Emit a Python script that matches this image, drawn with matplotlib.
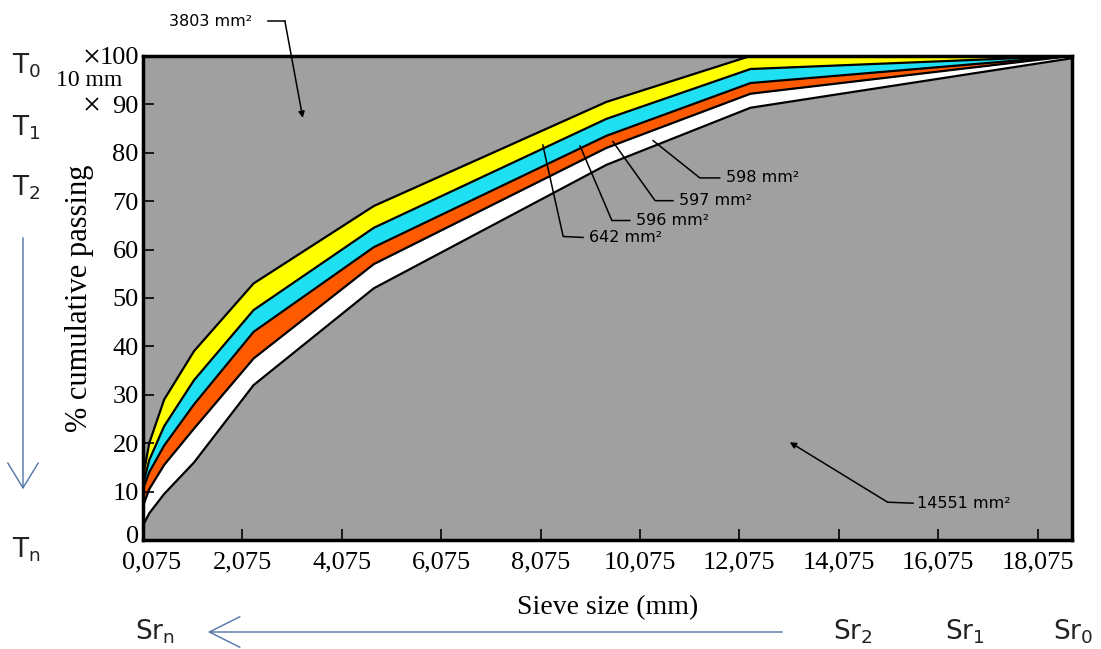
import matplotlib
matplotlib.use("Agg")
import matplotlib.pyplot as plt
import matplotlib.transforms as mtrans
import numpy as np

plt.rcParams['mathtext.default'] = 'regular'

# sieve sizes (mm) where the curves bend
sieve = [0.075, 0.2, 0.5, 1.1, 2.3, 4.72, 9.4, 12.3, 18.75]

# % cumulative passing, from top curve to bottom curve
curve_a = [13, 20, 29, 39, 53, 69, 90.5, 100, 100]
curve_b = [11.5, 16.5, 23.5, 33, 47.5, 64.5, 87, 97.3, 100]
curve_c = [10.5, 14, 19.5, 28, 43, 60.5, 83.5, 94.4, 100]
curve_d = [7, 10.5, 15.5, 23, 37.5, 57, 81, 92.2, 100]
curve_e = [3, 5.5, 9.5, 16, 32, 52, 77.5, 89.3, 99.5]

xticks = [0.075, 2.075, 4.075, 6.075, 8.075, 10.075, 12.075, 14.075, 16.075, 18.075]
xlabels = ["0,075", "2,075", "4,075", "6,075", "8,075", "10,075", "12,075",
           "14,075", "16,075", "18,075"]
yticks = [0, 10, 20, 30, 40, 50, 60, 70, 80, 90, 100]

areas = ["3803 mm²", "642 mm²", "596 mm²", "597 mm²", "598 mm²", "14551 mm²"]

fig = plt.figure(figsize=(11.01, 6.49), dpi=100)
ax = fig.add_axes([0.1299, 0.168, 0.8438, 0.7458])
ax.set_facecolor('#a0a0a0')

ax.fill_between(sieve, curve_e, curve_d, color='white', lw=0)
ax.fill_between(sieve, curve_d, curve_c, color='#ff5a00', lw=0)
ax.fill_between(sieve, curve_c, curve_b, color='#1fe0f2', lw=0)
ax.fill_between(sieve, curve_b, curve_a, color='#ffff00', lw=0)
for c in [curve_a, curve_b, curve_c, curve_d, curve_e]:
    ax.plot(sieve, c, color='black', lw=1.6)

ax.set_xlim(0.075, 18.77)
ax.set_ylim(0, 100)
ax.set_xticks(xticks)
ax.set_xticklabels(xlabels)
ax.set_yticks(yticks)
ax.tick_params(direction='in', length=8, width=1.2, pad=3,
               labelsize=19, labelfontfamily='Liberation Serif')
ax.tick_params(axis='x', pad=8)
# the two corner labels are nudged apart, as in the original
first = ax.get_xticklabels()[0]
first.set_transform(first.get_transform() +
                    mtrans.ScaledTranslation(9 / 100, 0, fig.dpi_scale_trans))
zero = ax.get_yticklabels()[0]
zero.set_transform(zero.get_transform() +
                   mtrans.ScaledTranslation(0, 5 / 100, fig.dpi_scale_trans))
for s in ax.spines.values():
    s.set_linewidth(2.5)
ax.set_xlabel("Sieve size (mm)", family='Liberation Serif', fontsize=20, labelpad=16)
ax.set_ylabel("% cumulative passing", family='Liberation Serif', fontsize=22, labelpad=4)

# leader lines for the areas
lead = dict(color='black', lw=1.1)
tfont = dict(fontsize=11.5, family='DejaVu Sans', va='center')

ax.plot([2.59, 2.93], [107.2, 107.2], clip_on=False, **lead)
ax.annotate("", xy=(3.29, 87.2), xytext=(2.93, 107.2), annotation_clip=False,
            arrowprops=dict(arrowstyle='-|>', color='black', lw=1.1,
                            mutation_scale=9, shrinkA=0, shrinkB=0))
ax.text(0.6, 107.2, areas[0], clip_on=False, **tfont)

ax.plot([8.12, 8.53, 8.93], [81.6, 62.7, 62.5], **lead)
ax.text(9.05, 62.5, areas[1], **tfont)
ax.plot([8.87, 9.51, 9.87], [81.4, 66.0, 66.0], **lead)
ax.text(9.99, 66.0, areas[2], **tfont)
ax.plot([9.53, 10.38, 10.74], [82.3, 70.1, 70.1], **lead)
ax.text(10.86, 70.1, areas[3], **tfont)
ax.plot([10.34, 11.28, 11.68], [82.5, 74.8, 74.8], **lead)
ax.text(11.8, 74.8, areas[4], **tfont)

ax.plot([15.57, 15.06], [7.6, 7.8], **lead)
ax.annotate("", xy=(13.09, 20.2), xytext=(15.06, 7.8),
            arrowprops=dict(arrowstyle='-|>', color='black', lw=1.1,
                            mutation_scale=9, shrinkA=0, shrinkB=0))
ax.text(15.65, 7.6, areas[5], **tfont)

# 10 mm marks on the y axis
yx = ax.get_yaxis_transform()
ax.plot([-0.055, -0.055], [100, 90], transform=yx, ls='none', marker='x',
        ms=8, mew=1.2, color='black', clip_on=False)
fig.text(89 / 1101, 1 - 80 / 649, "10 mm", family='Liberation Serif', fontsize=17,
         ha='center', va='center')

# T and Sr labels around the chart
blue = '#4f74a8'
side = dict(fontsize=19, family='DejaVu Sans', color='#222222', va='center')
fig.text(12 / 1101, 1 - 66 / 649, "T$_0$", **side)
fig.text(12 / 1101, 1 - 128 / 649, "T$_1$", **side)
fig.text(12 / 1101, 1 - 188 / 649, "T$_2$", **side)
fig.text(12 / 1101, 1 - 550 / 649, "T$_n$", **side)
fig.text(135 / 1101, 1 - 632 / 649, "Sr$_n$", **side)
fig.text(833 / 1101, 1 - 632 / 649, "Sr$_2$", **side)
fig.text(945 / 1101, 1 - 632 / 649, "Sr$_1$", **side)
fig.text(1053 / 1101, 1 - 632 / 649, "Sr$_0$", **side)

fig.add_artist(matplotlib.patches.FancyArrowPatch(
    (23 / 1101, 1 - 235 / 649), (23 / 1101, 1 - 492 / 649),
    transform=fig.transFigure, arrowstyle='->,head_length=0.9,head_width=0.55',
    color=blue, lw=1.0, mutation_scale=20))
fig.add_artist(matplotlib.patches.FancyArrowPatch(
    (785 / 1101, 1 - 632 / 649), (205 / 1101, 1 - 632 / 649),
    transform=fig.transFigure, arrowstyle='->,head_length=1.1,head_width=0.55',
    color=blue, lw=1.0, mutation_scale=20))

fig.savefig("out.png", dpi=100)
